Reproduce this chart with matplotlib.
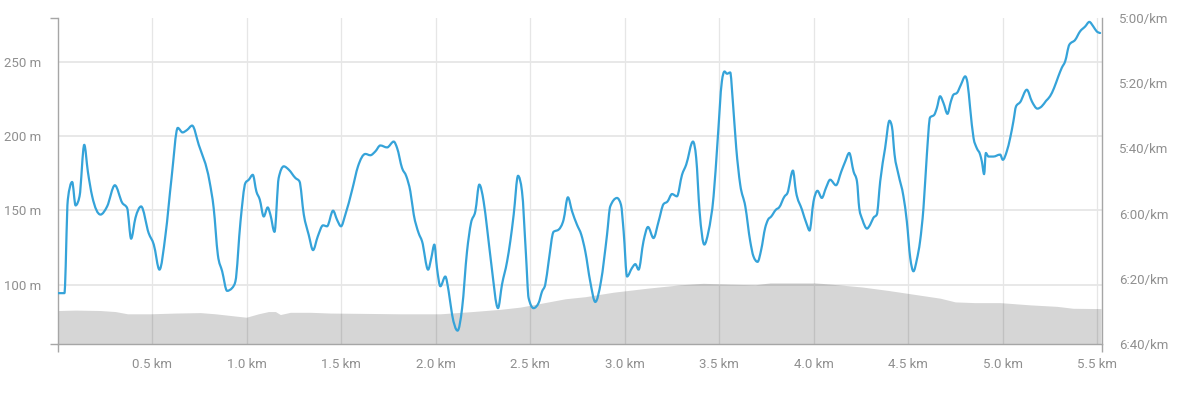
import matplotlib
matplotlib.use("Agg")
import matplotlib.pyplot as plt
import numpy as np
from matplotlib.path import Path
from matplotlib.patches import PathPatch
from matplotlib.ticker import FixedLocator, FuncFormatter

plt.rcParams['font.family'] = ['Roboto', 'DejaVu Sans']

# ---- data ----
# elevation profile (km, metres)
elev_km = [0.0, 0.093, 0.225, 0.304, 0.368, 0.489, 0.622, 0.754, 0.833, 0.939, 0.997,
           1.061, 1.114, 1.151, 1.177, 1.230, 1.336, 1.442, 1.601, 1.812, 2.024, 2.193,
           2.341, 2.447, 2.542, 2.685, 2.791, 2.939, 3.119, 3.294, 3.415, 3.558, 3.690,
           3.770, 3.929, 4.008, 4.130, 4.257, 4.394, 4.537, 4.669, 4.749, 4.854, 4.987,
           5.146, 5.288, 5.373, 5.521]
elev_m = [82.7, 83.0, 82.7, 82.0, 80.5, 80.5, 81.0, 81.3, 80.5, 79.0, 78.2,
          80.5, 82.0, 82.0, 80.0, 81.5, 81.5, 81.0, 80.8, 80.5, 80.5, 82.0,
          83.5, 85.0, 87.2, 90.6, 92.0, 95.0, 97.7, 100.0, 101.0, 100.4, 100.0,
          101.3, 101.3, 101.3, 100.0, 98.5, 96.2, 93.5, 91.0, 88.5, 88.0, 88.0,
          86.5, 85.5, 84.2, 84.0]

# pace (km, seconds per km)
pace_km = [0.000, 0.034, 0.052, 0.075, 0.093, 0.114, 0.139, 0.158, 0.181, 0.225,
           0.260, 0.301, 0.340, 0.366, 0.387, 0.410, 0.440, 0.480, 0.507, 0.537,
           0.569, 0.601, 0.634, 0.659, 0.684, 0.710, 0.745, 0.802, 0.824, 0.846,
           0.869, 0.895, 0.922, 0.939, 0.966, 0.992, 1.010, 1.031, 1.050, 1.068,
           1.089, 1.110, 1.124, 1.146, 1.168, 1.195, 1.221, 1.257, 1.278, 1.301,
           1.327, 1.350, 1.375, 1.403, 1.424, 1.456, 1.477, 1.498, 1.521, 1.557,
           1.588, 1.627, 1.653, 1.680, 1.706, 1.742, 1.777, 1.795, 1.821, 1.844,
           1.865, 1.883, 1.909, 1.927, 1.959, 1.976, 1.992, 2.006, 2.024, 2.050,
           2.068, 2.086, 2.115, 2.139, 2.165, 2.186, 2.209, 2.230, 2.253, 2.271,
           2.294, 2.329, 2.350, 2.377, 2.394, 2.412, 2.435, 2.456, 2.477, 2.491,
           2.517, 2.544, 2.562, 2.579, 2.597, 2.623, 2.650, 2.676, 2.699, 2.721,
           2.747, 2.770, 2.791, 2.817, 2.844, 2.874, 2.906, 2.923, 2.959, 2.980,
           2.994, 3.012, 3.038, 3.056, 3.073, 3.099, 3.123, 3.152, 3.179, 3.205,
           3.226, 3.250, 3.276, 3.303, 3.325, 3.361, 3.378, 3.396, 3.421, 3.443,
           3.470, 3.491, 3.514, 3.528, 3.541, 3.558, 3.572, 3.590, 3.611, 3.638,
           3.664, 3.681, 3.703, 3.722, 3.743, 3.758, 3.775, 3.800, 3.817, 3.846,
           3.861, 3.890, 3.906, 3.938, 3.964, 3.978, 3.999, 4.020, 4.043, 4.065,
           4.087, 4.118, 4.146, 4.167, 4.188, 4.211, 4.229, 4.241, 4.258, 4.282,
           4.299, 4.316, 4.334, 4.352, 4.378, 4.401, 4.414, 4.428, 4.449, 4.475,
           4.493, 4.511, 4.528, 4.546, 4.563, 4.581, 4.599, 4.616, 4.638, 4.652,
           4.669, 4.687, 4.708, 4.726, 4.740, 4.758, 4.779, 4.802, 4.814, 4.828,
           4.846, 4.863, 4.881, 4.890, 4.902, 4.911, 4.925, 4.951, 4.987, 5.001,
           5.022, 5.040, 5.057, 5.071, 5.093, 5.128, 5.155, 5.184, 5.207, 5.230,
           5.251, 5.272, 5.295, 5.313, 5.331, 5.353, 5.384, 5.410, 5.437, 5.459,
           5.480, 5.498, 5.516]
pace_s = [384.4, 384.4, 355.7, 350.3, 357.5, 354.7, 338.9, 347.1, 354.7, 360.3,
          357.8, 351.3, 356.7, 358.3, 367.7, 361.3, 357.8, 366.0, 369.5, 377.2,
          366.5, 349.1, 333.7, 335.1, 334.3, 333.0, 338.9, 350.1, 358.3, 372.6,
          377.7, 383.7, 382.8, 380.8, 362.4, 350.6, 349.6, 348.1, 353.2, 355.7,
          360.9, 358.1, 360.3, 365.6, 349.1, 345.5, 346.5, 349.1, 350.1, 360.3,
          366.5, 371.2, 367.0, 363.6, 363.9, 359.1, 361.9, 363.9, 360.3, 352.7,
          345.5, 341.7, 342.1, 340.9, 339.1, 339.7, 337.9, 339.9, 346.0, 348.6,
          353.2, 360.3, 366.0, 368.5, 377.2, 373.6, 369.5, 376.7, 382.3, 379.3,
          383.9, 391.0, 395.9, 389.0, 371.6, 362.9, 359.3, 351.1, 356.3, 364.4,
          375.7, 389.0, 381.8, 374.7, 368.5, 360.3, 348.4, 353.2, 372.6, 385.9,
          389.0, 387.4, 383.9, 381.8, 374.7, 365.6, 364.9, 361.9, 355.0, 359.3,
          363.4, 366.5, 371.6, 380.8, 387.1, 380.8, 366.5, 357.8, 355.2, 357.3,
          365.5, 379.3, 376.7, 375.5, 377.2, 368.5, 364.1, 367.5, 362.4, 357.1,
          356.3, 354.0, 354.7, 348.1, 345.0, 337.9, 342.9, 359.3, 369.5, 365.5,
          354.7, 337.9, 319.4, 316.4, 317.1, 316.7, 325.6, 339.9, 351.1, 357.8,
          368.5, 373.1, 374.8, 371.1, 364.4, 361.9, 360.9, 358.8, 358.1, 354.7,
          353.7, 346.8, 353.2, 358.8, 363.4, 365.2, 356.3, 353.0, 355.2, 352.1,
          349.6, 351.3, 347.1, 344.0, 341.4, 347.1, 350.1, 358.3, 361.9, 364.6,
          363.4, 361.3, 360.3, 350.1, 339.9, 331.5, 333.3, 341.9, 348.1, 354.7,
          362.4, 373.6, 377.7, 374.1, 368.5, 358.3, 341.9, 330.5, 329.7, 327.6,
          324.0, 326.1, 329.4, 325.6, 323.5, 323.0, 320.5, 317.9, 319.9, 327.6,
          336.8, 339.9, 341.9, 344.0, 347.9, 341.4, 342.5, 342.5, 341.9, 343.5,
          340.9, 336.8, 331.7, 327.1, 325.8, 322.0, 325.6, 327.8, 327.1, 325.4,
          324.0, 321.5, 317.9, 315.3, 313.3, 308.2, 306.7, 304.1, 302.6, 301.2,
          302.6, 304.1, 304.6]

x_ticks = [0.5, 1.0, 1.5, 2.0, 2.5, 3.0, 3.5, 4.0, 4.5, 5.0, 5.5]
elev_ticks = [100, 150, 200, 250]
pace_ticks = [300, 320, 340, 360, 380, 400]

# ---- style ----
TXT = '#8f8f8f'
AXC = '#a6a6a6'
GRID = '#e6e6e6'
LINE = '#35a3d9'


def monotone_path(xs, ys):
    """Cubic Bezier path through the points (monotone-x curve, as d3 draws it)."""
    x = np.asarray(xs, float)
    y = np.asarray(ys, float)
    n = len(x)
    h = np.diff(x)
    s = np.diff(y) / h
    t = np.zeros(n)
    for i in range(1, n - 1):
        s0, s1 = s[i - 1], s[i]
        p = (s0 * h[i] + s1 * h[i - 1]) / (h[i - 1] + h[i])
        t[i] = (np.sign(s0) + np.sign(s1)) * min(abs(s0), abs(s1), 0.5 * abs(p))
    t[0] = (3 * s[0] - t[1]) / 2
    t[-1] = (3 * s[-1] - t[-2]) / 2
    verts = [(x[0], y[0])]
    codes = [Path.MOVETO]
    for i in range(n - 1):
        dx = (x[i + 1] - x[i]) / 3
        verts += [(x[i] + dx, y[i] + dx * t[i]),
                  (x[i + 1] - dx, y[i + 1] - dx * t[i + 1]),
                  (x[i + 1], y[i + 1])]
        codes += [Path.CURVE4] * 3
    return Path(verts, codes)


fig = plt.figure(figsize=(11.87, 3.93), dpi=100)
ax = fig.add_axes([58 / 1187, 49 / 393, (1102 - 58) / 1187, (344 - 18) / 393])
ax2 = ax.twinx()

X_MAX = 5.526
ax.set_xlim(0, X_MAX)
ax.set_ylim(60.2, 279.3)
ax2.set_ylim(400, 300)

ax.fill_between(elev_km, elev_m, 0, color='black', alpha=0.16, linewidth=0, zorder=2)
ax2.add_patch(PathPatch(monotone_path(pace_km, pace_s), facecolor='none',
                        edgecolor=LINE, linewidth=1.6, joinstyle='round',
                        capstyle='round', zorder=3))

# grid
ax.set_axisbelow(True)
ax.set_xticks(x_ticks)
ax.set_xticklabels([f"{v:.1f} km" for v in x_ticks])
ax.set_yticks(elev_ticks)
ax.set_yticklabels([f"{v} m" for v in elev_ticks])
ax.grid(True, axis='y', color=GRID, linewidth=1.3)
ax.grid(True, axis='x', color=GRID, linewidth=0.9)

ax2.set_yticks(pace_ticks)
ax2.yaxis.set_major_formatter(FuncFormatter(lambda s, p: f"{int(s // 60)}:{int(round(s % 60)):02d}/km"))

# end ticks (outer ticks of axis domain)
ax.xaxis.set_minor_locator(FixedLocator([0, X_MAX]))
ax.yaxis.set_minor_locator(FixedLocator([60.2, 279.3]))
ax2.yaxis.set_minor_locator(FixedLocator([300, 400]))

for a in (ax, ax2):
    a.tick_params(which='major', length=0, colors=TXT, labelsize=9.5)
    a.tick_params(which='minor', length=6, width=1, color=AXC)
ax.tick_params(axis='x', which='major', pad=10)
ax.tick_params(axis='y', which='major', pad=12)
ax2.tick_params(axis='y', which='major', pad=12)

for a in (ax, ax2):
    a.spines['top'].set_visible(False)
    for s in ('left', 'right', 'bottom'):
        a.spines[s].set_color(AXC)
        a.spines[s].set_linewidth(1)
ax.spines['right'].set_visible(False)
ax2.spines['left'].set_visible(False)
ax2.spines['bottom'].set_visible(False)

fig.savefig('out.png', dpi=100)
